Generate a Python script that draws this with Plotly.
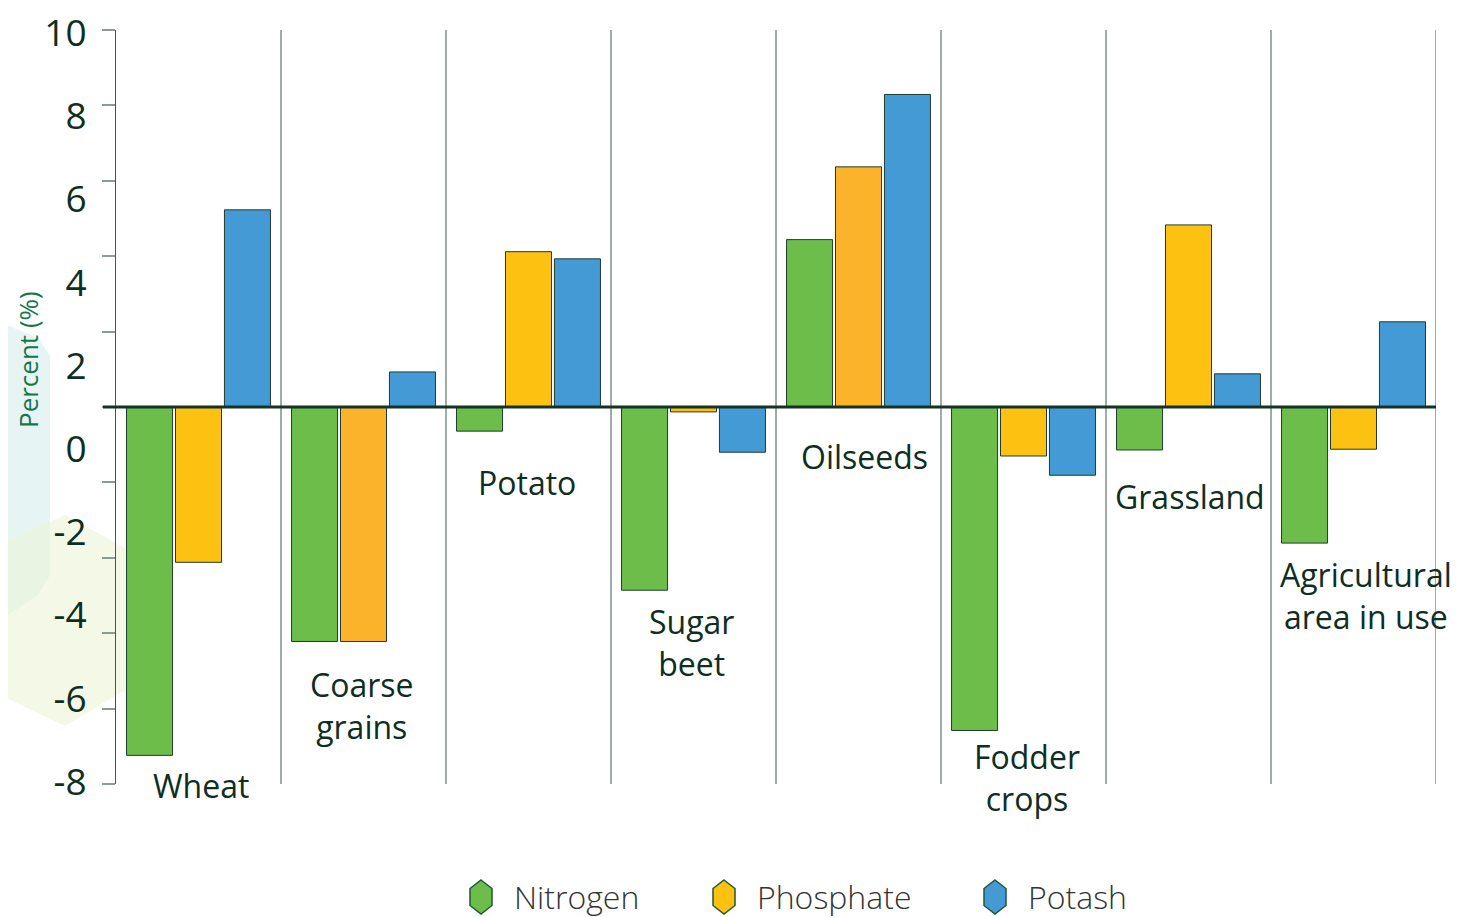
import plotly.graph_objects as go

categories = ["Wheat", "Coarse grains", "Potato", "Sugar beet", "Oilseeds",
              "Fodder crops", "Grassland", "Agricultural area in use"]
category_labels = ["Wheat", "Coarse<br>grains", "Potato", "Sugar<br>beet", "Oilseeds",
                   "Fodder<br>crops", "Grassland", "Agricultural<br>area in use"]
nitrogen = [-9.24, -6.22, -0.64, -4.86, 4.44, -8.58, -1.14, -3.61]
phosphate = [-4.12, -6.22, 4.12, -0.13, 6.37, -1.30, 4.83, -1.12]
potash = [5.23, 0.93, 3.93, -1.20, 8.29, -1.81, 0.88, 2.26]
series_names = ["Nitrogen", "Phosphate", "Potash"]
ytick_values = [-10, -8, -6, -4, -2, 0, 2, 4, 6, 8, 10]
ylabel_values = [-8, -6, -4, -2, 0, 2, 4, 6, 8, 10]
ylabel_text = ["-8", "-6", "-4", "-2", "0", "2", "4", "6", "8", "10"]

GREEN = "#6cbd4a"
YELLOW = "#fcc111"
ORANGE = "#fbb32c"
BLUE = "#449ad5"
OUTLINE = "#1f3d2c"
DARK = "#0f2e1f"
FONT = "Open Sans"

phos_colors = [YELLOW, ORANGE, YELLOW, YELLOW, ORANGE, YELLOW, YELLOW, YELLOW]
series_colors = [GREEN, YELLOW, BLUE]

# page has an 8px body margin; figure sized/offset to compensate
OFF = 8
W, H = 1474 - OFF, 917 - OFF
L, R, T, B = 116 - OFF, 38, 30 - OFF, 133
PW, PH = W - L - R, H - T - B
PLOT_LEFT, PLOT_BOTTOM = L + OFF, T + OFF + PH


def px(x):
    return (x - PLOT_LEFT) / PW


def py(y):
    return (PLOT_BOTTOM - y) / PH


fig = go.Figure()

for name, vals, col in zip(series_names, [nitrogen, phosphate, potash],
                           [GREEN, phos_colors, BLUE]):
    fig.add_trace(go.Bar(x=categories, y=vals, name=name, showlegend=False,
                         marker=dict(color=col, line=dict(color=OUTLINE, width=1))))

# label axis (as drawn in the original, evenly spaced labels)
fig.add_trace(go.Scatter(x=[None], y=[None], yaxis="y2", showlegend=False))

shapes = []
# decorative background shapes
teal = [(-10, 318), (38, 338), (50, 356), (50, 575), (38, 595), (-10, 627)]
path = "M " + " L ".join(f"{px(a)},{py(b)}" for a, b in teal) + " Z"
shapes.append(dict(type="path", xref="paper", yref="paper", path=path,
                   fillcolor="#e7f4f4", line=dict(width=0), layer="below"))
hexa = [(65, 515), (125, 548), (125, 690), (65, 726), (-10, 690), (-10, 548)]
path = "M " + " L ".join(f"{px(a)},{py(b)}" for a, b in hexa) + " Z"
shapes.append(dict(type="path", xref="paper", yref="paper", path=path,
                   fillcolor="rgba(236,244,214,0.6)", line=dict(width=0), layer="below"))

for i in range(len(categories)):
    shapes.append(dict(type="line", xref="x", yref="paper", x0=i + 0.5, x1=i + 0.5,
                       y0=0, y1=1, line=dict(color="#3e5a4d", width=1), layer="below"))
shapes.append(dict(type="line", xref="paper", yref="y", x0=px(103), x1=1, y0=0, y1=0,
                   line=dict(color="#143324", width=3)))

annotations = []
label_yshift = [-30, -64, -51, -52, -49, -47, -47, -52]
label_xshift = [2, -2, -2, -2, 6, 3, 1, 12]
for i, (c, t) in enumerate(zip(categories, category_labels)):
    low = min(0, nitrogen[i], phosphate[i], potash[i])
    annotations.append(dict(x=c, y=low, xref="x", yref="y", text=t, showarrow=False,
                            xshift=label_xshift[i], yshift=label_yshift[i],
                            yanchor="middle",
                            font=dict(family=FONT, size=32, color=DARK)))
annotations.append(dict(x=px(28), y=py(360), xref="paper", yref="paper",
                        text="Percent (%)", textangle=-90, showarrow=False,
                        xanchor="center", yanchor="middle",
                        font=dict(family=FONT, size=26, color="#17754a")))

# legend (hexagon icons as in the original)
legend_icon_x = [481, 724, 995]
legend_y = 897
for name, col, cx in zip(series_names, series_colors, legend_icon_x):
    hw, hh = 11, 17
    pts = [(cx, legend_y - hh), (cx + hw, legend_y - hh / 2), (cx + hw, legend_y + hh / 2),
           (cx, legend_y + hh), (cx - hw, legend_y + hh / 2), (cx - hw, legend_y - hh / 2)]
    path = "M " + " L ".join(f"{px(a)},{py(b)}" for a, b in pts) + " Z"
    shapes.append(dict(type="path", xref="paper", yref="paper", path=path,
                       fillcolor=col, line=dict(color="#1d5a32", width=1.5)))
    annotations.append(dict(x=px(cx + 31), y=py(legend_y), xref="paper", yref="paper",
                            text=name, showarrow=False, xanchor="left", yanchor="middle",
                            font=dict(family=FONT, size=32, color="#333333", weight=300)))

fig.update_layout(
    width=W, height=H,
    margin=dict(l=L, r=R, t=T, b=B, autoexpand=False),
    paper_bgcolor="white", plot_bgcolor="rgba(0,0,0,0)",
    barmode="group", bargap=0.11, bargroupgap=0.06,
    shapes=shapes, annotations=annotations,
    xaxis=dict(range=[-0.5, len(categories) - 0.5], showticklabels=False,
               showgrid=False, zeroline=False, showline=False, ticks="",
               automargin=False),
    yaxis=dict(range=[-10, 10], tickvals=ytick_values, showticklabels=False,
               ticks="outside", ticklen=13, tickcolor="#8a9c93", tickwidth=2,
               showgrid=False, zeroline=False, showline=True, linecolor="#3e5a4d",
               linewidth=1, automargin=False),
    yaxis2=dict(range=[-8.05, 10.07], overlaying="y", side="left", tickvals=ylabel_values,
                ticktext=ylabel_text, showgrid=False, zeroline=False, showline=False,
                ticks="outside", ticklen=21, tickcolor="rgba(0,0,0,0)", automargin=False,
                ticklabeloverflow="allow",
                tickfont=dict(family=FONT, size=37, color=DARK)),
    showlegend=False,
)

fig.write_html("out.html")
